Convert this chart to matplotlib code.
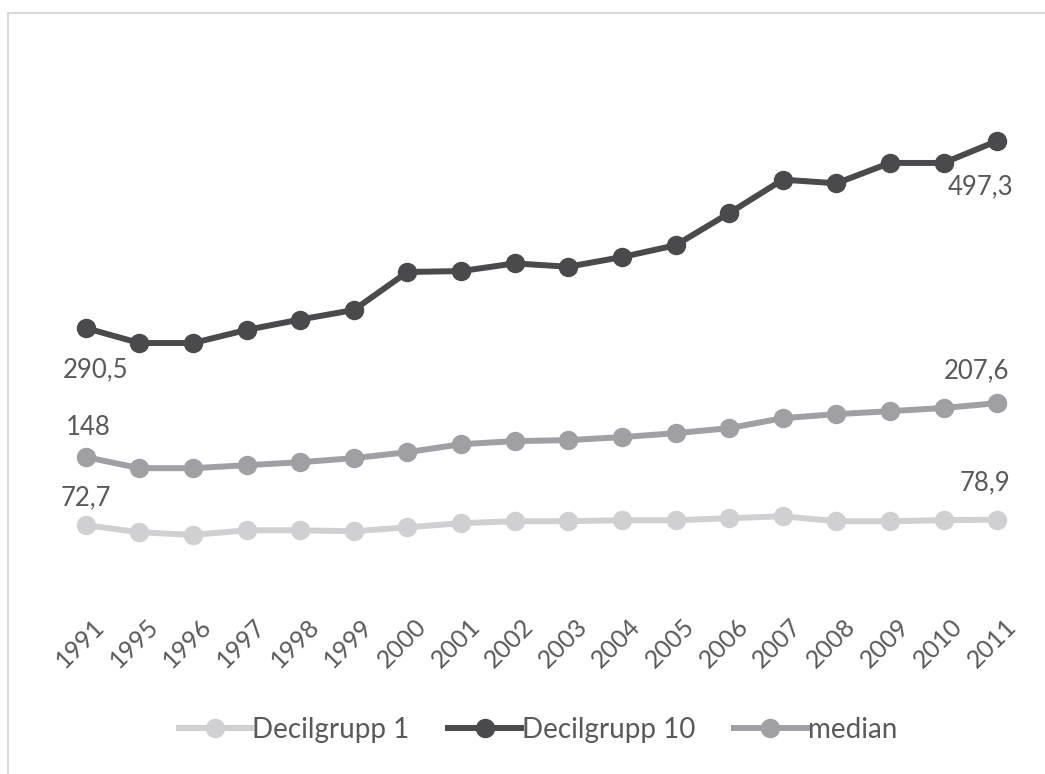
import matplotlib.pyplot as plt
from matplotlib.patches import Rectangle
from matplotlib.transforms import ScaledTranslation

plt.rcParams['font.family'] = ['Lato', 'DejaVu Sans']

years = ['1991', '1995', '1996', '1997', '1998', '1999', '2000', '2001', '2002',
         '2003', '2004', '2005', '2006', '2007', '2008', '2009', '2010', '2011']
decil1 = [72.7, 64.9, 62.0, 67.1, 67.1, 66.0, 70.4, 74.9, 77.1,
          77.1, 78.2, 78.2, 80.4, 82.6, 77.1, 77.1, 78.2, 78.9]
decil10 = [290.5, 274.0, 274.0, 288.5, 300.0, 310.5, 352.5, 353.5, 362.0,
           358.3, 369.0, 382.0, 417.5, 454.5, 450.5, 473.0, 473.0, 497.3]
median = [148, 135.7, 135.7, 139.0, 142.3, 146.8, 153.4, 162.2, 165.6,
          166.7, 170.0, 174.4, 179.9, 191.0, 195.4, 198.7, 202.2, 207.6]

c1, c10, cm = '#d0d0d2', '#4a4a4d', '#a0a0a4'
txt = '#595959'

fig = plt.figure(figsize=(10.45, 7.74), dpi=100)
fig.patches.append(Rectangle((8/1045, -0.1), 1.2, 1 - 13/774 + 0.1, transform=fig.transFigure,
                             fill=False, edgecolor='#d9d9d9', linewidth=1.5))
ax = fig.add_axes([59/1045, 1 - 591/774, (1024 - 59)/1045, (591 - 48)/774])

x = list(range(len(years)))
kw = dict(linewidth=4.3, marker='o', markersize=13)
ax.plot(x, decil1, color=c1, label='Decilgrupp 1', **kw)
ax.plot(x, decil10, color=c10, label='Decilgrupp 10', **kw)
ax.plot(x, median, color=cm, label='median', **kw)

ax.set_xlim(-0.5, len(years) - 0.5)
ax.set_ylim(0, 600)
ax.set_yticks([])
ax.set_xticks(x)
ax.set_xticklabels(years, rotation=45, ha='right', va='top', rotation_mode='anchor',
                   fontsize=18, color=txt)
ax.tick_params(axis='x', length=0, pad=17)
shift = ScaledTranslation(7/100, 0, fig.dpi_scale_trans)
for t in ax.get_xticklabels():
    t.set_transform(t.get_transform() + shift)
for s in ax.spines.values():
    s.set_visible(False)

def fmt(v):
    return ('%g' % v).replace('.', ',')

lab = dict(fontsize=18.5, color=txt, ha='center', textcoords='offset points')
ax.annotate(fmt(decil10[0]), (0, decil10[0]), xytext=(7, -21), va='top', **lab)
ax.annotate(fmt(decil10[-1]), (x[-1], decil10[-1]), xytext=(-12, -24), va='top', **lab)
ax.annotate(fmt(median[0]), (0, median[0]), xytext=(2, 16), va='baseline', **lab)
ax.annotate(fmt(median[-1]), (x[-1], median[-1]), xytext=(-15, 18), va='baseline', **lab)
ax.annotate(fmt(decil1[0]), (0, decil1[0]), xytext=(0, 14), va='baseline', **lab)
ax.annotate(fmt(decil1[-1]), (x[-1], decil1[-1]), xytext=(-9, 21), va='baseline', **lab)

leg = fig.legend(loc='center', bbox_to_anchor=(538/1045, 1 - 730/774), ncol=3, frameon=False,
                 fontsize=20, handlelength=2.6, handletextpad=0.05, columnspacing=1.4,
                 labelcolor=txt)

fig.savefig('out.png', dpi=100)
